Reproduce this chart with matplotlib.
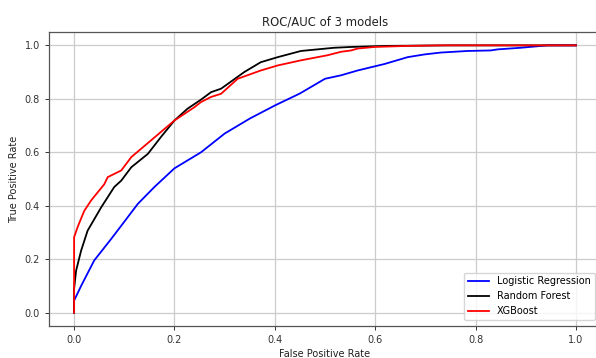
import matplotlib
matplotlib.use("Agg")
import matplotlib.pyplot as plt

# Logistic Regression
lr_fpr = [0.0, 0.0, 0.014, 0.04, 0.074, 0.1, 0.127, 0.16, 0.2, 0.253, 0.3, 0.35, 0.4, 0.45, 0.5, 0.532, 0.565, 0.598, 0.618, 0.665, 0.698, 0.73, 0.784, 0.83, 0.844, 0.89, 0.943, 1.0]
lr_tpr = [0.0, 0.045, 0.10, 0.195, 0.276, 0.34, 0.407, 0.47, 0.54, 0.60, 0.67, 0.726, 0.775, 0.82, 0.875, 0.888, 0.906, 0.921, 0.93, 0.956, 0.966, 0.973, 0.979, 0.981, 0.985, 0.991, 1.0, 1.0]

# Random Forest
rf_fpr = [0.0, 0.0, 0.004, 0.014, 0.027, 0.054, 0.08, 0.094, 0.114, 0.147, 0.173, 0.2, 0.226, 0.253, 0.273, 0.293, 0.339, 0.372, 0.406, 0.452, 0.518, 0.552, 0.62, 0.75, 1.0]
rf_tpr = [0.0, 0.09, 0.157, 0.232, 0.307, 0.394, 0.47, 0.494, 0.544, 0.594, 0.657, 0.719, 0.763, 0.797, 0.825, 0.838, 0.90, 0.937, 0.956, 0.979, 0.991, 0.994, 0.998, 1.0, 1.0]

# XGBoost
xgb_fpr = [0.0, 0.0, 0.007, 0.02, 0.034, 0.06, 0.067, 0.094, 0.114, 0.153, 0.2, 0.24, 0.253, 0.273, 0.293, 0.326, 0.372, 0.406, 0.452, 0.505, 0.532, 0.552, 0.565, 0.598, 0.665, 0.73, 1.0]
xgb_tpr = [0.0, 0.282, 0.32, 0.38, 0.42, 0.48, 0.507, 0.532, 0.582, 0.644, 0.719, 0.769, 0.788, 0.807, 0.819, 0.875, 0.906, 0.925, 0.944, 0.963, 0.976, 0.981, 0.988, 0.994, 0.998, 1.0, 1.0]

labels = ["Logistic Regression", "Random Forest", "XGBoost"]
colors = ["blue", "black", "red"]

fs = 7.0
fig = plt.figure(figsize=(5.96, 3.58), dpi=100)
ax = fig.add_axes([49/596, 32/358, 552/596, 294/358])

for (x, y), lab, c in zip([(lr_fpr, lr_tpr), (rf_fpr, rf_tpr), (xgb_fpr, xgb_tpr)], labels, colors):
    ax.plot(x, y, color=c, lw=1.3, label=lab)

ax.set_xlim(-0.05, 1.05)
ax.set_ylim(-0.05, 1.05)
ax.set_xticks([0.0, 0.2, 0.4, 0.6, 0.8, 1.0])
ax.set_yticks([0.0, 0.2, 0.4, 0.6, 0.8, 1.0])
ax.grid(True, color="#cccccc", lw=0.9)
ax.tick_params(labelsize=fs, colors="#333333", length=3, width=0.7)
for s in ax.spines.values():
    s.set_color("#555555")
    s.set_linewidth(0.9)
ax.set_title("ROC/AUC of 3 models", fontsize=8.4, color="#222222", pad=5)
ax.set_xlabel("False Positive Rate", fontsize=fs, color="#222222", labelpad=3)
ax.set_ylabel("True Positive Rate", fontsize=fs, color="#222222", labelpad=4)
leg = ax.legend(loc="lower right", bbox_to_anchor=(0.989, 0.0204), borderaxespad=0,
                fontsize=fs, framealpha=0.8, handlelength=2.2)

fig.savefig("out.png", dpi=100)
